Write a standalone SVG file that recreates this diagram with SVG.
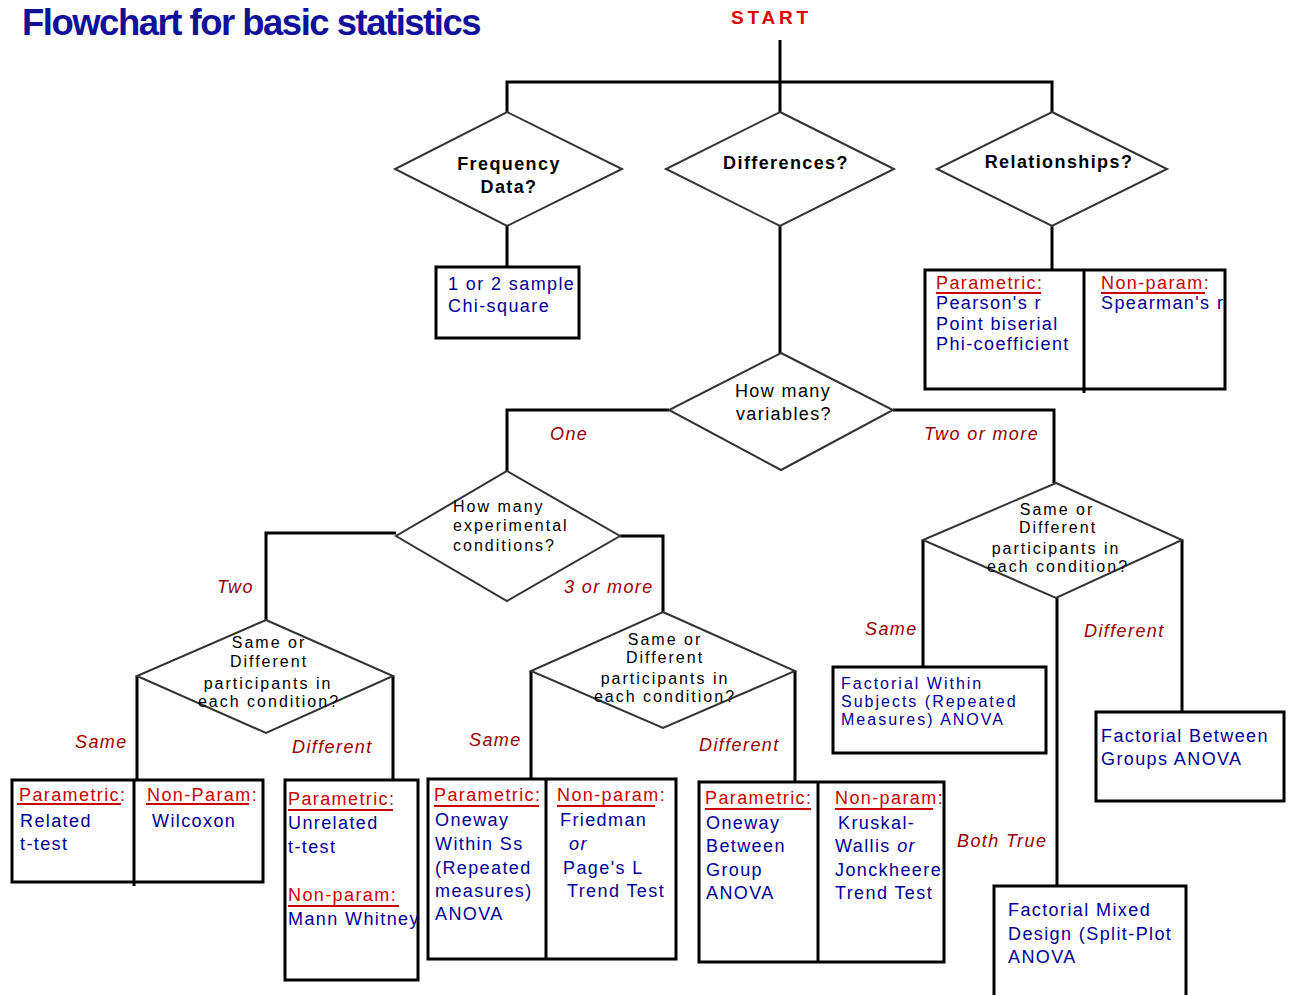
<svg xmlns="http://www.w3.org/2000/svg" width="1290" height="995" viewBox="0 0 1290 995">
<style>
.ln{stroke:#000;stroke-width:3;fill:none}
.dm{fill:#fff;stroke:#333;stroke-width:2}
.bx{fill:#fff;stroke:#000;stroke-width:3}
.ul{stroke:#cc0000;stroke-width:2}
text{font-family:"Liberation Sans",Arial,sans-serif;font-size:18px;letter-spacing:1.4px}
.bl{fill:#000099}
.rd{fill:#cc0000}
.q{fill:#000;text-anchor:middle}
.sm{font-size:16px;letter-spacing:2px}
.qb{fill:#000;text-anchor:middle;font-weight:bold}
.lab{fill:#990000;font-style:italic}
.it{font-style:italic}
</style>
<rect width="1290" height="995" fill="#fff"/>
<text x="22" y="35" style="font-size:37px;font-weight:bold;letter-spacing:-1.5px;fill:#10109a" textLength="458" lengthAdjust="spacingAndGlyphs">Flowchart for basic statistics</text>
<g id="start"><text x="731" y="24" style="font-weight:bold;font-size:19px;letter-spacing:0;fill:#dd0000" textLength="77">START</text></g>

<g id="connectors">
<path class="ln" d="M780,40V82M507,112V82H1052V112M780,82V112"/>
<path class="ln" d="M507,226V267M780,226V354M1052,226V270"/>
<path class="ln" d="M669,410H507V472M893,410H1054V483"/>
<path class="ln" d="M396,533H266V620M620,536H663V612"/>
<path class="ln" d="M137,676V780M393,676V780"/>
<path class="ln" d="M531,671V779M795,671V782"/>
<path class="ln" d="M923,540V667M1057,598V886M1182,540V712"/>
<text class="lab" x="550" y="440">One</text>
<text class="lab" x="924" y="440">Two or more</text>
<text class="lab" x="217" y="593">Two</text>
<text class="lab" x="564" y="593">3 or more</text>
<text class="lab" x="75" y="748">Same</text>
<text class="lab" x="292" y="753">Different</text>
<text class="lab" x="469" y="746">Same</text>
<text class="lab" x="699" y="751">Different</text>
<text class="lab" x="865" y="635">Same</text>
<text class="lab" x="1084" y="637">Different</text>
<text class="lab" x="957" y="847">Both True</text>
</g>

<g id="freq">
<polygon class="dm" points="507,112 622,169 507,226 395,169"/>
<text class="qb" x="509" y="170">Frequency</text>
<text class="qb" x="509" y="193">Data?</text>
</g>
<g id="diff">
<polygon class="dm" points="780,112 894,169 780,226 666,169"/>
<text class="qb" x="786" y="169">Differences?</text>
</g>
<g id="rel">
<polygon class="dm" points="1052,112 1167,169 1052,226 937,169"/>
<text class="qb" x="1059" y="168">Relationships?</text>
</g>

<g id="chi">
<rect class="bx" x="436" y="267" width="143" height="71"/>
<text class="bl" x="448" y="290">1 or 2 sample</text>
<text class="bl" x="448" y="312">Chi-square</text>
</g>

<g id="relbox">
<rect class="bx" x="925" y="270" width="300" height="119"/>
<path class="ln" d="M1084,270V393"/>
<text class="rd" x="936" y="289">Parametric:</text>
<line class="ul" x1="936" y1="293" x2="1041" y2="293"/>
<text class="bl" x="936" y="309">Pearson's r</text>
<text class="bl" x="936" y="330">Point biserial</text>
<text class="bl" x="936" y="350">Phi-coefficient</text>
<text class="rd" x="1101" y="289">Non-param:</text>
<line class="ul" x1="1101" y1="293" x2="1205" y2="293"/>
<text class="bl" x="1101" y="309">Spearman's r</text>
</g>

<g id="vars">
<polygon class="dm" points="781,353 893,410 781,470 669,410"/>
<text class="q" x="783" y="397">How many</text>
<text class="q" x="784" y="420">variables?</text>
</g>

<g id="conds">
<polygon class="dm" points="507,471 620,536 507,601 396,536"/>
<text class="sm" x="453" y="512">How many</text>
<text class="sm" x="453" y="531">experimental</text>
<text class="sm" x="453" y="551">conditions?</text>
</g>

<g id="sd1">
<polygon class="dm" points="266,620 393,676 266,733 137,676"/>
<text class="q sm" x="269" y="648">Same or</text>
<text class="q sm" x="269" y="667">Different</text>
<text class="q sm" x="268" y="689">participants in</text>
<text class="q sm" x="269" y="707">each condition?</text>
</g>

<g id="sd2">
<polygon class="dm" points="663,612 795,671 663,728 531,671"/>
<text class="q sm" x="665" y="645">Same or</text>
<text class="q sm" x="665" y="663">Different</text>
<text class="q sm" x="665" y="684">participants in</text>
<text class="q sm" x="665" y="702">each condition?</text>
</g>

<g id="sd3">
<polygon class="dm" points="1056,483 1182,540 1056,598 923,540"/>
<text class="q sm" x="1057" y="515">Same or</text>
<text class="q sm" x="1058" y="533">Different</text>
<text class="q sm" x="1056" y="554">participants in</text>
<text class="q sm" x="1058" y="572">each condition?</text>
</g>

<g id="related">
<rect class="bx" x="12" y="780" width="251" height="102"/>
<path class="ln" d="M134,780V886"/>
<text class="rd" x="19" y="801">Parametric:</text>
<line class="ul" x1="17" y1="804" x2="121" y2="804"/>
<text class="bl" x="20" y="827">Related</text>
<text class="bl" x="20" y="850">t-test</text>
<text class="rd" x="147" y="801">Non-Param:</text>
<line class="ul" x1="146" y1="804" x2="249" y2="804"/>
<text class="bl" x="152" y="827">Wilcoxon</text>
</g>

<g id="unrelated">
<rect class="bx" x="285" y="780" width="133" height="200"/>
<text class="rd" x="288" y="805">Parametric:</text>
<line class="ul" x1="288" y1="810" x2="393" y2="810"/>
<text class="bl" x="288" y="829">Unrelated</text>
<text class="bl" x="288" y="853">t-test</text>
<text class="rd" x="288" y="901">Non-param:</text>
<line class="ul" x1="288" y1="906" x2="399" y2="906"/>
<text class="bl" x="288" y="925">Mann Whitney</text>
</g>

<g id="within">
<rect class="bx" x="428" y="779" width="248" height="180"/>
<path class="ln" d="M546,779V959"/>
<text class="rd" x="434" y="801">Parametric:</text>
<line class="ul" x1="434" y1="806" x2="539" y2="806"/>
<text class="bl" x="435" y="826">Oneway</text>
<text class="bl" x="435" y="850">Within Ss</text>
<text class="bl" x="435" y="874">(Repeated</text>
<text class="bl" x="435" y="897">measures)</text>
<text class="bl" x="435" y="920">ANOVA</text>
<text class="rd" x="557" y="801">Non-param:</text>
<line class="ul" x1="557" y1="806" x2="655" y2="806"/>
<text class="bl" x="560" y="826">Friedman</text>
<text class="bl it" x="569" y="850">or</text>
<text class="bl" x="563" y="874">Page's L</text>
<text class="bl" x="567" y="897">Trend Test</text>
</g>

<g id="between">
<rect class="bx" x="699" y="782" width="245" height="180"/>
<path class="ln" d="M818,782V962"/>
<text class="rd" x="705" y="804">Parametric:</text>
<line class="ul" x1="705" y1="809" x2="811" y2="809"/>
<text class="bl" x="706" y="829">Oneway</text>
<text class="bl" x="706" y="852">Between</text>
<text class="bl" x="706" y="876">Group</text>
<text class="bl" x="706" y="899">ANOVA</text>
<text class="rd" x="835" y="804">Non-param:</text>
<line class="ul" x1="835" y1="809" x2="933" y2="809"/>
<text class="bl" x="838" y="829">Kruskal-</text>
<text class="bl" x="835" y="852">Wallis <tspan class="it">or</tspan></text>
<text class="bl" x="835" y="876">Jonckheere</text>
<text class="bl" x="835" y="899">Trend Test</text>
</g>

<g id="fwithin">
<rect class="bx" x="833" y="667" width="213" height="86"/>
<text class="bl sm" x="841" y="689">Factorial Within</text>
<text class="bl sm" x="841" y="707">Subjects (Repeated</text>
<text class="bl sm" x="841" y="725">Measures) ANOVA</text>
</g>

<g id="fbetween">
<rect class="bx" x="1096" y="712" width="188" height="89"/>
<text class="bl" x="1101" y="742">Factorial Between</text>
<text class="bl" x="1101" y="765">Groups ANOVA</text>
</g>

<g id="fmixed">
<path class="bx" d="M994,1000V886H1186V1000"/>
<text class="bl" x="1008" y="916">Factorial Mixed</text>
<text class="bl" x="1008" y="940">Design (Split-Plot</text>
<text class="bl" x="1008" y="963">ANOVA</text>
</g>
</svg>
